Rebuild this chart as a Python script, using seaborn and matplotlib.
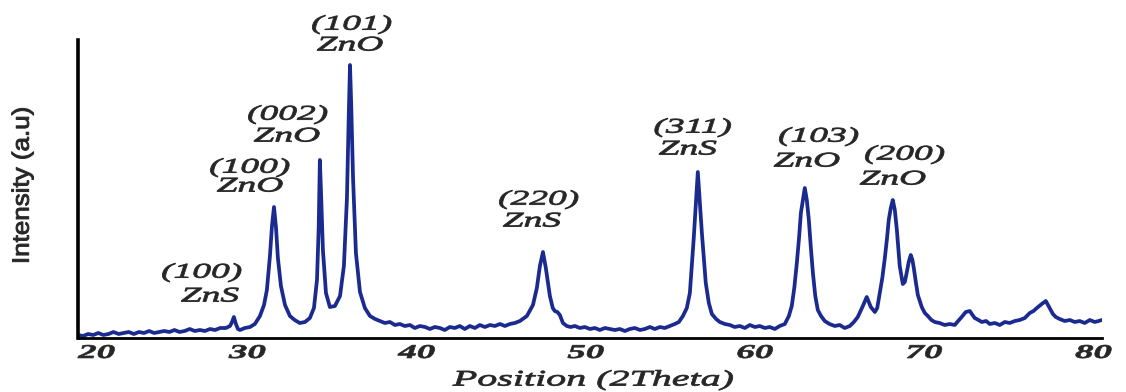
import numpy as np
import matplotlib
matplotlib.use("Agg")
import matplotlib.pyplot as plt
import seaborn as sns
from matplotlib.patheffects import AbstractPathEffect
from matplotlib.transforms import Affine2D

# ------------------------------------------------------------------
# data (2theta in degrees, intensity in a.u.)
# ------------------------------------------------------------------
two_theta = [
    20.00, 20.30, 20.60, 20.90, 21.20, 21.50, 21.80, 22.10, 22.40, 22.70,
    23.00, 23.30, 23.60, 23.90, 24.20, 24.50, 24.80, 25.10, 25.40, 25.70,
    26.00, 26.30, 26.60, 26.90, 27.20, 27.50, 27.80, 28.10, 28.40, 28.74,
    28.98, 29.10, 29.21, 29.33, 29.45, 29.57, 29.86, 30.16, 30.45, 30.75,
    30.99, 31.16, 31.34, 31.46, 31.58, 31.70, 31.81, 31.99, 32.23, 32.52,
    32.80, 33.10, 33.41, 33.70, 33.94, 34.12, 34.22, 34.29, 34.36, 34.47,
    34.65, 34.88, 35.18, 35.48, 35.71, 35.89, 36.00, 36.07, 36.14, 36.25,
    36.42, 36.66, 36.95, 37.25, 37.55, 37.84, 38.13, 38.43, 38.72, 39.02,
    39.31, 39.61, 39.90, 40.20, 40.50, 40.79, 41.08, 41.38, 41.67, 41.97,
    42.26, 42.56, 42.85, 43.15, 43.45, 43.74, 44.04, 44.34, 44.63, 44.93,
    45.22, 45.52, 45.81, 46.11, 46.52, 46.88, 47.11, 47.29, 47.47, 47.64,
    47.88, 48.05, 48.17, 48.32, 48.47, 48.65, 48.88, 49.10, 49.36, 49.65,
    49.95, 50.24, 50.54, 50.83, 51.13, 51.42, 51.72, 52.01, 52.31, 52.60,
    52.90, 53.20, 53.49, 53.79, 54.08, 54.38, 54.67, 54.97, 55.26, 55.50,
    55.74, 55.97, 56.15, 56.38, 56.62, 56.86, 57.09, 57.27, 57.45, 57.70,
    57.92, 58.22, 58.51, 58.80, 59.10, 59.40, 59.69, 59.99, 60.28, 60.58,
    60.87, 61.17, 61.46, 61.76, 62.00, 62.17, 62.32, 62.47, 62.60, 62.71,
    62.94, 63.06, 63.18, 63.30, 63.42, 63.56, 63.71, 63.90, 64.12, 64.40,
    64.71, 65.00, 65.30, 65.60, 65.84, 66.07, 66.37, 66.60, 66.84, 67.08,
    67.22, 67.37, 67.52, 67.67, 67.80, 67.90, 68.02, 68.14, 68.26, 68.38,
    68.55, 68.73, 68.85, 68.97, 69.08, 69.20, 69.30, 69.38, 69.50, 69.62,
    69.85, 70.03, 70.21, 70.42, 70.62, 70.90, 71.21, 71.50, 71.80, 72.00,
    72.21, 72.45, 72.69, 72.85, 72.98, 73.20, 73.40, 73.65, 73.87, 74.17,
    74.46, 74.76, 75.05, 75.35, 75.64, 75.94, 76.23, 76.45, 76.65, 76.94,
    77.18, 77.41, 77.60, 77.77, 78.00, 78.30, 78.60, 78.89, 79.18, 79.48,
    79.78, 80.07, 80.30, 80.48,
]
intensity = [
    3, 2, 4, 3, 5, 3, 4, 6, 4, 5,
    6, 4, 6, 5, 7, 5, 6, 7, 6, 8,
    6, 7, 9, 7, 8, 7, 9, 8, 10, 10,
    12, 16, 21, 14, 9, 8, 10, 11, 14, 22,
    33, 48, 82, 112, 131, 110, 80, 52, 33, 22,
    18, 15, 16, 20, 30, 58, 110, 178, 145, 88,
    45, 31, 32, 42, 72, 140, 225, 273, 235, 160,
    85, 46, 30, 22, 19, 17, 15, 16, 13, 14,
    12, 13, 10, 12, 11, 9, 11, 10, 8, 11,
    10, 12, 9, 12, 10, 13, 11, 13, 12, 14,
    12, 14, 15, 17, 22, 33, 50, 72, 86, 70,
    42, 30, 27, 26, 23, 15, 12, 11, 12, 10,
    11, 9, 10, 8, 10, 9, 8, 9, 7, 9,
    10, 8, 9, 11, 9, 11, 10, 12, 14, 16,
    22, 30, 45, 100, 166, 105, 55, 35, 24, 19,
    16, 14, 13, 11, 12, 10, 13, 11, 12, 10,
    11, 9, 12, 14, 22, 32, 50, 75, 100, 125,
    150, 138, 118, 90, 65, 42, 28, 22, 17, 14,
    12, 13, 10, 12, 16, 21, 32, 41, 31, 26,
    30, 45, 60, 80, 100, 118, 130, 138, 128, 108,
    72, 54, 56, 66, 76, 83, 78, 70, 56, 43,
    31, 25, 22, 18, 16, 15, 13, 14, 13, 17,
    21, 26, 27, 23, 20, 18, 16, 17, 14, 15,
    13, 16, 15, 17, 18, 20, 25, 27, 30, 34,
    37, 30, 24, 21, 19, 17, 18, 16, 17, 15,
    18, 16, 17, 18,
]

x_ticks = [20, 30, 40, 50, 60, 70, 80]

# peak labels: miller index line and phase line
hkl_text = ["(100)", "(100)", "(002)", "(101)", "(220)", "(311)", "(103)", "(200)"]
phase_text = ["ZnS", "ZnO", "ZnO", "ZnO", "ZnS", "ZnS", "ZnO", "ZnO"]
hkl_x = [27.32, 30.16, 32.40, 36.18, 47.23, 56.33, 63.77, 68.85]
hkl_y = [65, 170, 223, 313, 138, 210, 201, 183]
phase_x = [27.80, 30.16, 32.34, 36.07, 46.82, 56.03, 63.06, 68.14]
phase_y = [41, 151, 201, 292, 116, 188, 176, 158]


# the source picture is stretched sideways, so the glyphs are widened too
class Stretch(AbstractPathEffect):
    def __init__(self, sx=1.0, sy=1.0, fx=0.5, lw=0.0):
        super().__init__()
        self.sx, self.sy, self.fx, self.lw = sx, sy, fx, lw

    def draw_path(self, renderer, gc, tpath, affine, rgbFace=None):
        ext = tpath.get_extents()
        cx = ext.x0 + self.fx * (ext.x1 - ext.x0)
        cy = 0.5 * (ext.y0 + ext.y1)
        pre = Affine2D().translate(-cx, -cy).scale(self.sx, self.sy).translate(cx, cy)
        gc0 = renderer.new_gc()
        gc0.copy_properties(gc)
        gc0.set_linewidth(self.lw)
        renderer.draw_path(gc0, tpath, pre + affine, rgbFace)
        gc0.restore()


sns.set_style("white")
plt.rcParams["font.family"] = ["Liberation Serif", "DejaVu Serif"]

fig = plt.figure(figsize=(11.26, 3.92), dpi=100)
ax = fig.add_axes([78 / 1126, 54 / 392, 1024 / 1126, 298 / 392])

sns.lineplot(x=two_theta, y=intensity, ax=ax, color="#1b2a8f", linewidth=2.7, legend=False)

ax.set_xlim(20, 80.5)
ax.set_ylim(0, 298)
ax.set_xticks(x_ticks)
ax.set_xticklabels([str(t) for t in x_ticks])
ax.set_yticks(np.linspace(0, 298, 6))
ax.set_yticklabels([])

for side in ["top", "right"]:
    ax.spines[side].set_visible(False)
ax.spines["left"].set_linewidth(2.6)
ax.spines["bottom"].set_linewidth(2.0)
ax.spines["left"].set_color("black")
ax.spines["bottom"].set_color("black")

ax.tick_params(axis="x", length=0, pad=5)
ax.tick_params(axis="y", direction="out", length=5, width=1.6, color="black")

for i, lab in enumerate(ax.get_xticklabels()):
    lab.set_fontsize(14)
    lab.set_fontweight("bold")
    lab.set_fontstyle("italic")
    if i == 0:
        lab.set_horizontalalignment("left")
        lab.set_path_effects([Stretch(1.9, 1.0, 0.0, lw=0.5)])
    else:
        lab.set_path_effects([Stretch(1.9, lw=0.5)])

ax.set_xlabel("Position (2Theta)", fontsize=16, fontstyle="italic", va="center")
ax.xaxis.set_label_coords(0.503, -0.144)
ax.xaxis.label.set_path_effects([Stretch(1.8, lw=0.6)])

ax.set_ylabel("Intensity (a.u)", fontsize=17, family=["Liberation Sans", "DejaVu Sans"], va="center")
ax.yaxis.set_label_coords(-0.054, 0.513)
ax.yaxis.label.set_path_effects([Stretch(1.1, 1.0, lw=0.7)])

for k in range(len(hkl_text)):
    t1 = ax.text(hkl_x[k], hkl_y[k], hkl_text[k], fontsize=15, fontstyle="italic",
                 ha="center", va="center", clip_on=False)
    t2 = ax.text(phase_x[k], phase_y[k], phase_text[k], fontsize=15, fontstyle="italic",
                 ha="center", va="center", clip_on=False)
    t1.set_path_effects([Stretch(1.8, lw=0.6)])
    t2.set_path_effects([Stretch(1.8, lw=0.6)])

fig.savefig("out.png", dpi=100)
